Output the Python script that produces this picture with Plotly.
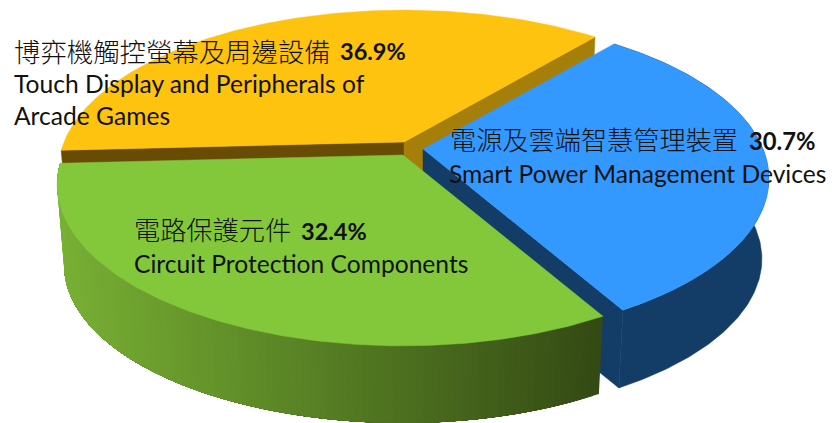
import numpy as np
import plotly.graph_objects as go

# --- data ---
categories_zh = ["博弈機觸控螢幕及周邊設備", "電源及雲端智慧管理裝置", "電路保護元件"]
categories_en = [["Touch Display and Peripherals of", "Arcade Games"],
                 ["Smart Power Management Devices"],
                 ["Circuit Protection Components"]]
shares = [36.9, 30.7, 32.4]

# --- style / projection ---
FIRST_ANGLE = 267.0
R, A, T = 340.0, 156.0, 0.1827
THICK, BOTTOM_SCALE = 81.0, 0.98
apexes = [(404, 142), (423, 149), (403, 155)]
top_colors = ["#fdc30f", "#3399ff", "#82c83a"]
rad_start = ["#684b05", None, None]
rad_end = ["#a57f0a", "#133d66", None]
side_solid = [None, "#133d66", None]
wall_gradient = [False, False, True]
G_DARK = np.array([0x34, 0x4a, 0x14])
G_LIGHT = np.array([0x78, 0xb0, 0x34])


def proj(apex, deg, bottom=False):
    th = np.radians(deg)
    s, c = np.sin(th), np.cos(th)
    p = 1 / (1 + c * T)
    k = BOTTOM_SCALE if bottom else 1.0
    return apex[0] + k * R * s * p, apex[1] + (THICK if bottom else 0) - k * A * c * p


def poly(fig, pts, color, lw=0.5):
    xs = [q[0] for q in pts] + [pts[0][0]]
    ys = [q[1] for q in pts] + [pts[0][1]]
    fig.add_trace(go.Scatter(x=xs, y=ys, mode="lines", fill="toself", fillcolor=color,
                             line=dict(color=color, width=lw), hoverinfo="skip", showlegend=False))


fig = go.Figure()
start = FIRST_ANGLE
for i, share in enumerate(shares):
    end = start + share * 3.6
    apex = apexes[i]
    angles = np.linspace(start, end, 160)
    if rad_start[i]:
        poly(fig, [apex, proj(apex, start), proj(apex, start, True),
                   (apex[0], apex[1] + THICK)], rad_start[i])
    if rad_end[i]:
        poly(fig, [apex, proj(apex, end), proj(apex, end, True),
                   (apex[0], apex[1] + THICK)], rad_end[i])
    if side_solid[i]:
        poly(fig, [proj(apex, a) for a in angles] + [proj(apex, a, True) for a in angles[::-1]], side_solid[i])
    if wall_gradient[i]:
        edges = np.linspace(start, end, 110)
        x_right, x_left = proj(apex, start)[0], proj(apex, end)[0]
        for a, b in zip(edges[:-1], edges[1:]):
            xm = proj(apex, (a + b) / 2)[0]
            t = (x_right - xm) / (x_right - x_left)
            col = G_DARK + (G_LIGHT - G_DARK) * t
            colr = "rgb(%d,%d,%d)" % tuple(col)
            rest = np.linspace(a, end, 30)
            poly(fig, [proj(apex, q) for q in rest] + [proj(apex, q, True) for q in rest[::-1]], colr, lw=0)
    poly(fig, [apex] + [proj(apex, a) for a in angles], top_colors[i])
    start = end

# --- labels ---
CJK = "Noto Sans CJK TC"
LAT = "Lato"


def label(x, y, text, family, size, bold=False, light=False):
    fig.add_annotation(x=x, y=y, text=text, showarrow=False, xanchor="left", yanchor="middle",
                       xref="x", yref="y", font=dict(family=family, size=size, color="#111111",
                                                     weight=700 if bold else (300 if light else 400)))


pct = ["%.1f%%" % s for s in shares]
L = 24.6
label(12, 50, categories_zh[0], CJK, 26.4, light=True)
label(338, 51, pct[0], LAT, 23.5, True)
label(12, 83, categories_en[0][0], LAT, L)
label(12, 115, categories_en[0][1], LAT, L)
label(448, 139, categories_zh[1], CJK, 26.2, light=True)
label(747, 141, pct[1], LAT, 23.8, True)
label(447, 173, categories_en[1][0], LAT, L)
label(132, 229, categories_zh[2], CJK, 26.2, light=True)
label(299, 231, pct[2], LAT, 23.5, True)
label(132, 263, categories_en[2][0], LAT, L)

fig.update_layout(width=834, height=423, margin=dict(l=0, r=0, t=0, b=0), autosize=False,
                  paper_bgcolor="white", plot_bgcolor="white", showlegend=False,
                  xaxis=dict(range=[0, 834], visible=False, fixedrange=True),
                  yaxis=dict(range=[423, 0], visible=False, fixedrange=True))
fig.write_html("out.html", config={"displayModeBar": False},
               post_script="document.body.style.margin='0';")
